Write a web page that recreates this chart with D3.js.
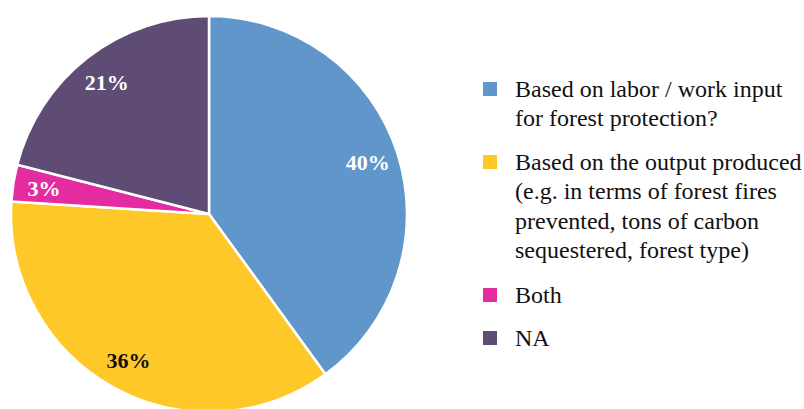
<!DOCTYPE html>
<html>
<head>
<meta charset="utf-8">
<script src="https://cdn.jsdelivr.net/npm/d3@7/dist/d3.min.js"></script>
<style>
  html, body { margin: 0; padding: 0; background: #fff; }
  svg { display: block; }
</style>
</head>
<body>
<svg id="chart" width="804" height="409"></svg>
<script>
// Payment basis for forest protection — share of responses
const categories = [
  ["Based on labor / work input", "for forest protection?"],
  ["Based on the output produced", "(e.g. in terms of forest fires", "prevented, tons of carbon", "sequestered, forest type)"],
  ["Both"],
  ["NA"]
];
const values = [40, 36, 3, 21];
const valueLabels = ["40%", "36%", "3%", "21%"];
const colors = ["#6096C9", "#FEC928", "#E42B9F", "#5F4C74"];
const labelColors = ["#ffffff", "#111111", "#ffffff", "#ffffff"];
const FONT = '"Liberation Serif"';

const svg = d3.select("#chart");
const cx = 209, cy = 214, R = 198;

const pie = d3.pie().value(d => d).sort(null);
const arcs = pie(values);
const arc = d3.arc().innerRadius(0).outerRadius(R);
const labelArc = d3.arc().innerRadius(167).outerRadius(167);

const g = svg.append("g").attr("transform", `translate(${cx},${cy})`);

g.selectAll("path.slice")
  .data(arcs)
  .join("path")
  .attr("class", "slice")
  .attr("d", arc)
  .attr("fill", (d, i) => colors[i])
  .attr("stroke", "#fff")
  .attr("stroke-width", 2.5)
  .attr("stroke-linejoin", "round");

g.selectAll("text.pct")
  .data(arcs)
  .join("text")
  .attr("class", "pct")
  .attr("transform", d => `translate(${labelArc.centroid(d)})`)
  .attr("text-anchor", "middle")
  .attr("dy", "0.35em")
  .style("font-family", FONT)
  .style("font-weight", "bold")
  .style("font-size", "22px")
  .attr("fill", (d, i) => labelColors[i])
  .text((d, i) => valueLabels[i]);

// Legend
const legendX = 483, textX = 515, lineH = 29.5;
const legendTops = [89, 162, 295, 338];
const legend = svg.append("g");
categories.forEach((lines, i) => {
  const y0 = legendTops[i];
  legend.append("rect")
    .attr("x", legendX).attr("y", y0 - 7)
    .attr("width", 14).attr("height", 14)
    .attr("fill", colors[i]);
  const t = legend.append("text")
    .style("font-family", FONT)
    .style("font-size", "24px")
    .attr("fill", "#111");
  lines.forEach((ln, j) => {
    t.append("tspan")
      .attr("x", textX)
      .attr("y", y0 + j * lineH)
      .attr("dy", "0.33em")
      .text(ln);
  });
});
</script>
</body>
</html>
